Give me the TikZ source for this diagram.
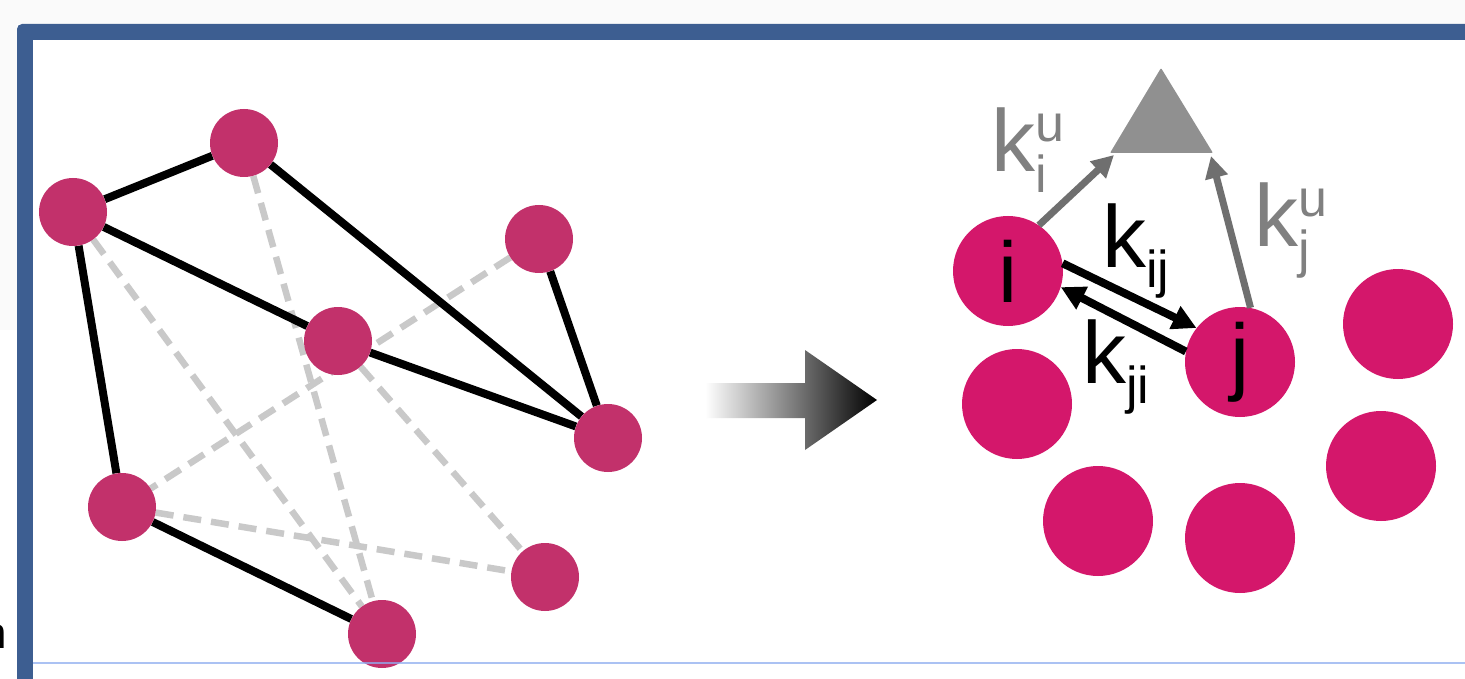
\documentclass[tikz,border=0pt]{standalone}
\usepackage{fontspec}
\setmainfont{Liberation Sans}
\usetikzlibrary{arrows.meta}

\definecolor{framebl}{HTML}{3D5E91}
\definecolor{guideln}{HTML}{8FAEF0}
\definecolor{graphnode}{HTML}{C2316B}
\definecolor{statenode}{HTML}{D4176B}
\definecolor{dashgray}{HTML}{C9C9C9}
\definecolor{rategray}{HTML}{6F6F6F}
\definecolor{labelgray}{HTML}{808080}
\definecolor{sinkgray}{HTML}{909090}
\definecolor{pagebg}{HTML}{FAFAFA}

\pgfdeclarelayer{back}
\pgfdeclarelayer{edges}
\pgfdeclarelayer{front}
\pgfsetlayers{back,edges,main,front}

\newcommand\subsz{\fontsize{52}{52}\selectfont}
% rate constant k with a superscript and a subscript
\newcommand\ratesupsub[2]{k\makebox[0pt][l]{\raisebox{30pt}{\subsz #1}}\raisebox{-21pt}{\subsz #2}}
% rate constant k with a subscript only
\newcommand\ratesub[1]{k\raisebox{-20pt}{\subsz #1}}

\begin{document}
\begin{tikzpicture}[x=1pt,y=-1pt,
  gnode/.style={circle,fill=graphnode,minimum size=68pt,inner sep=0pt},
  snode/.style={circle,fill=statenode,minimum size=110pt,inner sep=0pt,
    font=\fontsize{86}{86}\selectfont},
  solidedge/.style={line width=8pt,black},
  dashedge/.style={line width=6.5pt,dashgray,dash pattern=on 18pt off 10pt},
  uniarrow/.style={line width=7pt,rategray,-{Triangle[length=22pt,width=22pt]}},
  pairarrow/.style={line width=8pt,black,-{Triangle[length=24pt,width=24pt]}},
  ratelab/.style={anchor=base west,inner sep=0pt,font=\fontsize{88}{88}\selectfont}]
\useasboundingbox (0,0) rectangle (1465,679);

% page background and frame
\begin{pgfonlayer}{back}
  \fill[white] (0,0) rectangle (1465,679);
  \fill[pagebg] (0,0) rectangle (1465,24);
  \fill[pagebg] (0,0) rectangle (17,330);
  \fill[framebl,rounded corners=5pt] (17,24) rectangle (1490,700);
  \fill[white] (33,40) rectangle (1490,700);
  \node[anchor=base west,inner sep=0pt,font=\fontsize{44}{44}\selectfont] (cut) at (-18,648) {n};
\end{pgfonlayer}

% interaction graph
\node[gnode] (A) at (73,212) {};
\node[gnode] (B) at (244,143) {};
\node[gnode] (C) at (539,239) {};
\node[gnode] (D) at (338,341) {};
\node[gnode] (E) at (608,438) {};
\node[gnode] (F) at (122,507) {};
\node[gnode] (G) at (545,577) {};
\node[gnode] (H) at (382,634) {};

\begin{pgfonlayer}{edges}
  \draw[dashedge] (A) -- (H);
  \draw[dashedge] (B) -- (H);
  \draw[dashedge] (C) -- (F);
  \draw[dashedge] (D) -- (G);
  \draw[dashedge] (F) -- (G);
  \draw[solidedge] (A) -- (B);
  \draw[solidedge] (A) -- (D);
  \draw[solidedge] (A) -- (F);
  \draw[solidedge] (B) -- (E);
  \draw[solidedge] (D) -- (E);
  \draw[solidedge] (C) -- (E);
  \draw[solidedge] (F) -- (H);
\end{pgfonlayer}

% transition arrow
\shade[left color=white,right color=black]
  (705,383) -- (805,383) -- (805,350) -- (877,400) -- (805,450) -- (805,418) -- (705,418) -- cycle;

% state network with rates
\node[snode] (ni) at (1008,271) {i};
\node[snode] (nj) at (1240,362) {j};
\node[snode] (s1) at (1017,404) {};
\node[snode] (s2) at (1398,324) {};
\node[snode] (s3) at (1381,466) {};
\node[snode] (s4) at (1098,521) {};
\node[snode] (s5) at (1240,538) {};

\coordinate (tapex) at (1161,68);
\coordinate (tleft) at (1110,153);
\coordinate (tright) at (1213,153);
\fill[sinkgray,rounded corners=1pt] (tapex) -- (tright) -- (tleft) -- cycle;
\coordinate (ti) at (1114,155);
\coordinate (tj) at (1211,156);

\draw[uniarrow] (ni.56) -- (ti);
\draw[uniarrow] (nj.79) -- (tj);
\draw[pairarrow] (ni.8) -- (nj.142);
\draw[pairarrow] (nj.169) -- (ni.-17);

\node[ratelab,text=labelgray] (kiu) at (991,172) {\ratesupsub{u}{i}};
\node[ratelab,text=labelgray] (kju) at (1254,247) {\ratesupsub{u}{j}};
\node[ratelab] (kij) at (1102,268) {\ratesub{ij}};
\node[ratelab] (kji) at (1082,383) {\ratesub{ji}};

% thin guide line across the bottom
\begin{pgfonlayer}{front}
  \coordinate (gl) at (33,663);
  \coordinate (gr) at (1465,663);
  \draw[guideln,opacity=0.75,line width=1.6pt] (gl) -- (gr);
\end{pgfonlayer}
\end{tikzpicture}
\end{document}
